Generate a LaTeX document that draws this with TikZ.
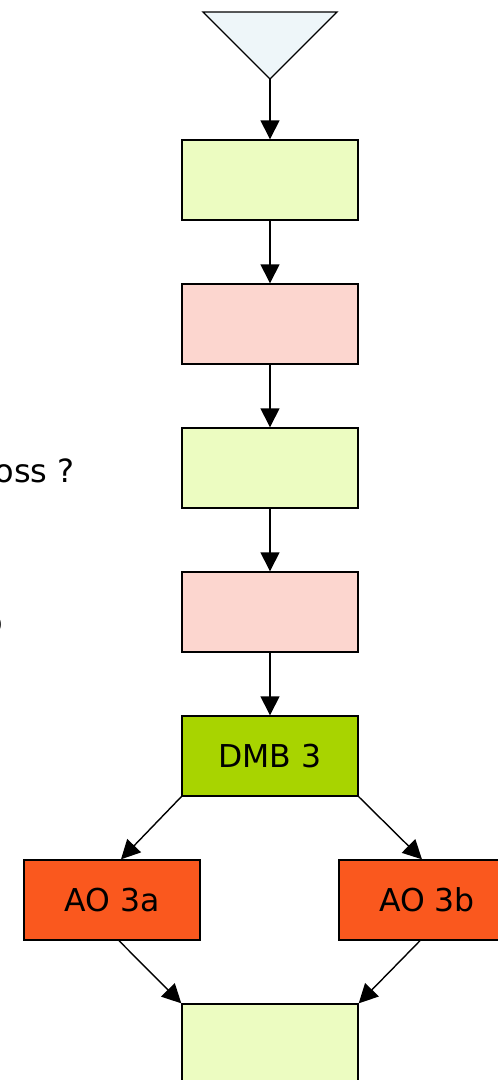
\documentclass[tikz,border=0pt]{standalone}
\usepackage{fontspec}
\setmainfont{DejaVu Sans}
\usetikzlibrary{positioning,arrows.meta}
\definecolor{funnelblue}{HTML}{EEF6F9}
\definecolor{palegreen}{HTML}{ECFCC1}
\definecolor{palepink}{HTML}{FCD6CF}
\definecolor{dmbgreen}{HTML}{A8D400}
\definecolor{aoorange}{HTML}{FA581E}
\tikzset{
  stagebox/.style={draw, line width=1.4pt, minimum width=176pt, minimum height=80pt,
    inner sep=0pt, font=\fontsize{31.5}{37}\selectfont},
  flow/.style={-{Triangle[length=19pt,width=19pt]}, line width=1.4pt},
  sidenote/.style={inner sep=0pt, font=\fontsize{32}{38}\selectfont},
}

\begin{document}
\begin{tikzpicture}[x=1pt,y=-1pt]
		\useasboundingbox (0,0) rectangle (498,1080);
		\clip (0,0) rectangle (498,1080);

		% funnel on top
		\draw[fill=funnelblue, line width=1.4pt] (203,12) -- (337,12) -- (270,79) -- cycle;
		\coordinate (tip) at (270,79);

		\node[stagebox, fill=palegreen] (s1) at (270,180) {};
		\node[stagebox, fill=palepink]  (s2) at (270,324) {};
		\node[stagebox, fill=palegreen] (s3) at (270,468) {};
		\node[stagebox, fill=palepink]  (s4) at (270,612) {};
		\node[stagebox, fill=dmbgreen]  (dmb) at (270,756) {DMB 3};
		\node[stagebox, fill=aoorange]  (ao3a) at (112,900) {AO 3a};
		\node[stagebox, fill=aoorange]  (ao3b) at (427,900) {AO 3b};
		\node[stagebox, fill=palegreen] (out) at (270,1044) {};

		\draw[flow] (tip) -- (s1);
		\draw[flow] (s1) -- (s2);
		\draw[flow] (s2) -- (s3);
		\draw[flow] (s3) -- (s4);
		\draw[flow] (s4) -- (dmb);
		\draw[flow] (dmb.south west) -- ([xshift=9pt]ao3a.north);
		\draw[flow] (dmb.south east) -- ([xshift=-5pt]ao3b.north);
		\draw[flow] ([xshift=7pt]ao3a.south) -- (out.north west);
		\draw[flow] ([xshift=-7pt]ao3b.south) -- (out.north east);

		% cut off notes on the left
		\node[sidenote, anchor=base east] (q1) at (75,482) {oss ?};
		\node[sidenote, anchor=base east] (q2) at (3,633) {o};
	\end{tikzpicture}
\end{document}
